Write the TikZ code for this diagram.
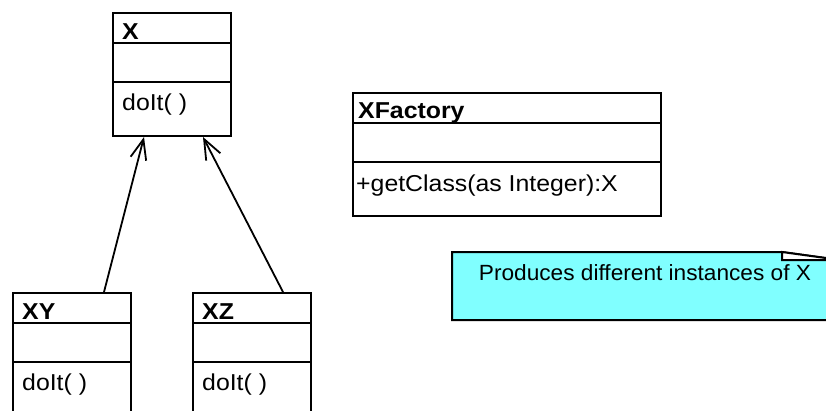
\documentclass[tikz,border=0pt]{standalone}
\usepackage{fontspec}
\usepackage{graphicx}
\setmainfont{Liberation Sans}
\usetikzlibrary{arrows.meta}
\definecolor{notecyan}{RGB}{128,255,255}
% wide class-diagram lettering
\newcommand{\umltext}[1]{\scalebox{1.08}[1]{#1}}
\newcommand{\notetext}[1]{\scalebox{1.03}[1]{#1}}
\tikzset{
  umlbox/.style={draw, line width=2pt, rectangle, anchor=north west, inner sep=0pt},
  divider/.style={line width=2pt},
  label/.style={anchor=base west, inner sep=0pt, font=\fontsize{23}{27}\selectfont},
  classname/.style={label, font=\fontsize{23}{27}\selectfont\bfseries},
  inherit/.style={line width=1.8pt, -{Straight Barb[length=20pt,width=16pt,line width=1.8pt]}},
}
\begin{document}
\begin{tikzpicture}[x=1pt,y=-1pt]
\useasboundingbox (0,0) rectangle (826,410);
\clip (0,0) rectangle (826,410);

% class X
\node[umlbox, minimum width=118pt, minimum height=123pt] (X) at (112,12) {};
\draw[divider] ([yshift=-31pt]X.north west) -- ([yshift=-31pt]X.north east);
\draw[divider] ([yshift=-70pt]X.north west) -- ([yshift=-70pt]X.north east);
\node[classname] (Xn) at ([xshift=10pt,yshift=-27pt]X.north west) {\umltext{X}};
\node[label] (Xm) at ([xshift=10pt,yshift=-98pt]X.north west) {\umltext{doIt( )}};

% class XY
\node[umlbox, minimum width=118pt, minimum height=130pt] (XY) at (12,292) {};
\draw[divider] ([yshift=-31pt]XY.north west) -- ([yshift=-31pt]XY.north east);
\draw[divider] ([yshift=-70pt]XY.north west) -- ([yshift=-70pt]XY.north east);
\node[classname] (XYn) at ([xshift=10pt,yshift=-27pt]XY.north west) {\umltext{XY}};
\node[label] (XYm) at ([xshift=10pt,yshift=-98pt]XY.north west) {\umltext{doIt( )}};

% class XZ
\node[umlbox, minimum width=118pt, minimum height=130pt] (XZ) at (192,292) {};
\draw[divider] ([yshift=-31pt]XZ.north west) -- ([yshift=-31pt]XZ.north east);
\draw[divider] ([yshift=-70pt]XZ.north west) -- ([yshift=-70pt]XZ.north east);
\node[classname] (XZn) at ([xshift=10pt,yshift=-27pt]XZ.north west) {\umltext{XZ}};
\node[label] (XZm) at ([xshift=10pt,yshift=-98pt]XZ.north west) {\umltext{doIt( )}};

% class XFactory
\node[umlbox, minimum width=308pt, minimum height=123pt] (F) at (352,92) {};
\draw[divider] ([yshift=-31pt]F.north west) -- ([yshift=-31pt]F.north east);
\draw[divider] ([yshift=-70pt]F.north west) -- ([yshift=-70pt]F.north east);
\node[classname] (Fn) at ([xshift=6pt,yshift=-26pt]F.north west) {\umltext{XFactory}};
\node[label] (Fm) at ([xshift=4pt,yshift=-99pt]F.north west) {\umltext{+getClass(as Integer):X}};

% generalisation arrows
\draw[inherit] ([xshift=32pt]XY.north) -- ([xshift=-28pt]X.south);
\draw[inherit] ([xshift=31pt]XZ.north) -- ([xshift=31pt]X.south);

% note with folded corner
\coordinate (nA) at (452,252);
\coordinate (nB) at (782,252);
\coordinate (nC) at (840,260);
\coordinate (nD) at (840,320);
\coordinate (nE) at (452,320);
\coordinate (nF) at (782,260);
\filldraw[line width=2pt, fill=notecyan] (nA) -- (nB) -- (nC) -- (nD) -- (nE) -- cycle;
\filldraw[line width=2pt, fill=white, line join=miter] (nB) -- (nF) -- (nC) -- cycle;
\node[anchor=base, inner sep=0pt, font=\fontsize{22}{26}\selectfont] (nt) at (645,280) {\notetext{Produces different instances of X}};
\end{tikzpicture}
\end{document}
